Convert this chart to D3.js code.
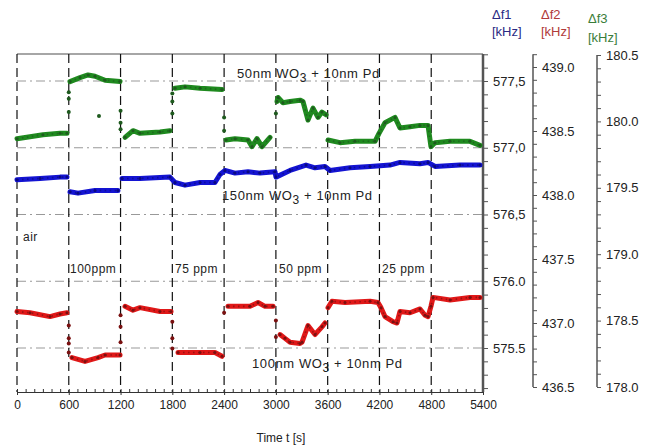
<!DOCTYPE html>
<html>
<head>
<meta charset="utf-8">
<script src="https://cdn.jsdelivr.net/npm/d3@7"></script>
<style>
  body { margin: 0; background: #fff; }
  svg { font-family: "Liberation Sans", Arial, sans-serif; }
  .lbl { font-size: 12px; fill: #222; letter-spacing: 0.5px; }
  .tick text { font-size: 12px; fill: #222; }
  .rt .tick text { font-size: 13px; }
</style>
</head>
<body>
<div id="chart"></div>
<script>
// ---- data (time in s, frequency shift in kHz) ----
var switchTimes = [600, 1200, 1800, 2400, 3000, 3600, 4200, 4800];
var timeTicks = [0, 600, 1200, 1800, 2400, 3000, 3600, 4200, 4800, 5400];

// 50nm WO3 + 10nm Pd  (f3)
var greenF3 = [[0,179.87],[301,179.90],[498,179.91],[579,179.91],
  [614,180.30],[730,180.33],[823,180.35],[904,180.34],[1020,180.31],[1194,180.30],
  [1252,179.88],[1344,179.93],[1425,179.91],[1657,179.92],[1773,179.93],
  [1831,180.25],[1947,180.26],[2121,180.25],[2376,180.24],
  [2422,179.86],[2526,179.87],[2677,179.86],[2723,179.81],[2781,179.87],[2839,179.81],[2932,179.88],
  [3013,180.15],[3025,180.18],[3082,180.14],[3164,180.15],[3280,180.16],[3314,180.15],
  [3372,180.01],[3430,180.10],[3488,180.03],[3534,180.07],[3581,180.05],
  [3604,179.86],[3743,179.84],[3917,179.85],[4149,179.85],[4195,179.91],
  [4264,179.99],[4380,180.03],[4438,179.95],[4554,179.96],[4670,179.97],[4763,179.97],
  [4797,179.81],[4844,179.84],[5018,179.85],[5249,179.85],[5365,179.82]];
var greenJumps = [[600,180.07],[600,180.17],[600,180.22],[950,180.04],
  [1200,180.08],[1200,179.99],[1200,179.94],[1800,180.06],[1800,180.15],[1800,180.21],
  [2400,180.03],[2400,179.93],[3000,180.06]];

// 150nm WO3 + 10nm Pd  (f1)
var blueF1 = [[0,576.76],[267,576.77],[498,576.78],[579,576.78],
  [614,576.67],[707,576.66],[904,576.68],[1170,576.68],
  [1217,576.77],[1425,576.77],[1773,576.78],
  [1831,576.74],[1947,576.72],[2121,576.74],[2294,576.74],[2352,576.80],
  [2410,576.83],[2526,576.81],[2677,576.82],[2816,576.81],[2990,576.82],
  [3001,576.78],[3164,576.83],[3349,576.87],[3453,576.85],[3569,576.86],
  [3627,576.83],[3859,576.85],[4091,576.86],[4322,576.87],[4438,576.89],[4670,576.88],[4763,576.89],
  [4844,576.86],[5133,576.87],[5365,576.87]];
var blueJumps = [];

// 100nm WO3 + 10nm Pd  (f2)
var redF2 = [[0,437.09],[151,437.08],[382,437.05],[498,437.07],[579,437.08],
  [637,436.73],[788,436.70],[939,436.73],[1020,436.75],[1194,436.75],
  [1252,437.13],[1344,437.10],[1425,437.12],[1657,437.09],[1785,437.09],
  [1866,436.77],[2121,436.77],[2294,436.77],[2376,436.74],
  [2445,437.13],[2700,437.13],[2793,437.16],[2874,437.13],[2967,437.13],
  [3048,436.91],[3106,436.88],[3164,436.85],[3280,436.84],[3303,436.85],
  [3372,436.98],[3453,436.91],[3534,436.97],[3569,437.00],
  [3604,437.12],[3650,437.17],[3801,437.16],[4091,437.17],[4183,437.16],
  [4218,437.12],[4264,437.05],[4357,437.01],[4403,437.00],[4438,437.09],
  [4554,437.08],[4670,437.11],[4728,437.06],[4763,437.05],
  [4797,437.13],[4821,437.20],[5018,437.18],[5249,437.20],[5365,437.20]];
var redJumps = [[600,436.98],[600,436.88],[600,436.84],[600,436.77],
  [1200,436.85],[1200,436.97],[1200,437.06],[1800,437.01],[1800,436.88],[1800,436.80],
  [2400,437.08],[3000,437.02],[3000,436.89]];

var f1Labels = {"575.5": "575.5", "576": "576.0", "576.5": "576,5", "577": "577,0", "577.5": "577,5"};
var f2Labels = ["436.5", "437.0", "437.5", "438.0", "438.5", "439.0"];
var f3Labels = ["178.0", "178.5", "179.0", "179.5", "180.0", "180.5"];

var gasLabels = [["air", 23, 241], ["100ppm", 70, 273], ["75 ppm", 175, 273],
                 ["50 ppm", 279, 273], ["25 ppm", 382, 273]];

// ---- layout ----
var svgWidth = 650, svgHeight = 448;
var plot = {left: 17, right: 483, top: 54, bottom: 392};

var svg = d3.select("#chart").append("svg")
  .attr("width", svgWidth)
  .attr("height", svgHeight);

var x = d3.scaleLinear().domain([0, 5400]).range([plot.left, plot.right]);
var y1 = d3.scaleLinear().domain([575.5, 577.5]).range([348, 81]);
var y2 = d3.scaleLinear().domain([436.5, 439.0]).range([387, 67]);
var y3 = d3.scaleLinear().domain([178.0, 180.5]).range([387, 55]);

function steps(a, b, s) {
  var out = [];
  for (var i = 0; a + i * s <= b + 1e-9; i++) out.push(+(a + i * s).toFixed(2));
  return out;
}

// horizontal grid (f1 major ticks)
svg.append("g").selectAll("line")
  .data(steps(575.5, 577.5, 0.5))
  .enter().append("line")
  .attr("x1", plot.left).attr("x2", plot.right)
  .attr("y1", d => y1(d)).attr("y2", d => y1(d))
  .attr("stroke", "#999").attr("stroke-width", 1)
  .attr("stroke-dasharray", "9,4,2,4");

// top border
svg.append("line")
  .attr("x1", plot.left).attr("x2", plot.right)
  .attr("y1", plot.top).attr("y2", plot.top)
  .attr("stroke", "#888").attr("stroke-width", 1.5);

// vertical dashed lines at gas switching
svg.append("g").selectAll("line")
  .data([0].concat(switchTimes))
  .enter().append("line")
  .attr("x1", d => x(d)).attr("x2", d => x(d))
  .attr("y1", plot.top).attr("y2", plot.bottom)
  .attr("stroke", "#111").attr("stroke-width", 1.2)
  .attr("stroke-dasharray", "9,5");

// bottom axis
var minorX = svg.append("g")
  .attr("transform", `translate(0, ${plot.bottom})`)
  .call(d3.axisBottom(x).tickValues(steps(0, 5400, 100)).tickSize(-3).tickFormat(""));
minorX.select(".domain").remove();
minorX.selectAll("line").attr("stroke", "#333");

var xAxis = svg.append("g")
  .attr("transform", `translate(0, ${plot.bottom})`)
  .call(d3.axisBottom(x).tickValues(timeTicks).tickSizeInner(3).tickSizeOuter(0).tickPadding(5)
    .tickFormat(d3.format("d")));
xAxis.select(".domain").attr("stroke", "#333").attr("stroke-width", 1.2);
xAxis.selectAll("line").attr("stroke", "#333");

svg.append("text").attr("class", "lbl")
  .attr("x", 281).attr("y", 442).attr("text-anchor", "middle")
  .style("letter-spacing", "0px")
  .text("Time t [s]");

// f1 axis (right border)
svg.append("line")
  .attr("x1", plot.right).attr("x2", plot.right)
  .attr("y1", plot.top).attr("y2", plot.bottom)
  .attr("stroke", "#555").attr("stroke-width", 2.5);
var f1Axis = svg.append("g").attr("class", "rt")
  .attr("transform", `translate(${plot.right + 1}, 0)`)
  .call(d3.axisRight(y1).tickValues(steps(575.2, 577.7, 0.1)).tickSize(4).tickPadding(5)
    .tickFormat(d => f1Labels[String(d)] || ""));
f1Axis.select(".domain").remove();
f1Axis.selectAll("line").attr("stroke", "#555");

function halfLabel(list) {
  return function (d) {
    var s = d.toFixed(1);
    return list.indexOf(s) >= 0 && Math.abs(d * 2 - Math.round(d * 2)) < 1e-6 ? s : "";
  };
}

// f2 axis
var f2Axis = svg.append("g").attr("class", "rt")
  .attr("transform", "translate(533, 0)")
  .call(d3.axisRight(y2).tickValues(steps(436.5, 439.1, 0.1)).tickSize(4).tickPadding(5)
    .tickFormat(halfLabel(f2Labels)));
f2Axis.select(".domain").remove();
f2Axis.append("line").attr("y1", y2(436.5)).attr("y2", y2(439.1))
  .attr("stroke", "#555").attr("stroke-width", 1.5);
f2Axis.selectAll("line").attr("stroke", "#555");

// f3 axis
var f3Axis = svg.append("g").attr("class", "rt")
  .attr("transform", "translate(597, 0)")
  .call(d3.axisRight(y3).tickValues(steps(178.0, 180.5, 0.1)).tickSize(4).tickPadding(5)
    .tickFormat(halfLabel(f3Labels)));
f3Axis.select(".domain").remove();
f3Axis.append("line").attr("y1", y3(178.0)).attr("y2", y3(180.5))
  .attr("stroke", "#555").attr("stroke-width", 1.5);
f3Axis.selectAll("line").attr("stroke", "#555");

// axis titles
var titles = [["\u0394f1", "[kHz]", 492, 19, 36, "#2a2a84"],
              ["\u0394f2", "[kHz]", 541, 19, 36, "#b03a3a"],
              ["\u0394f3", "[kHz]", 588, 23, 42, "#3a7d3a"]];
titles.forEach(function (t) {
  svg.append("text").attr("x", t[2]).attr("y", t[3]).attr("fill", t[5])
    .style("font-size", "13px").text(t[0]);
  svg.append("text").attr("x", t[2]).attr("y", t[4]).attr("fill", t[5])
    .style("font-size", "13px").text(t[1]);
});

// series
function drawSeries(data, jumps, yScale, color, dark) {
  // break the trace where the gas is switched and the signal jumps
  var segs = [[data[0]]];
  for (var i = 1; i < data.length; i++) {
    var a = data[i - 1], b = data[i];
    var crosses = switchTimes.some(s => a[0] < s && b[0] >= s);
    if (crosses && Math.abs(yScale(b[1]) - yScale(a[1])) > 12) segs.push([]);
    segs[segs.length - 1].push(b);
  }
  var line = d3.line().x(d => x(d[0])).y(d => yScale(d[1]));
  var g = svg.append("g");
  g.selectAll("path.band").data(segs).enter().append("path")
    .attr("class", "band")
    .attr("d", line).attr("fill", "none")
    .attr("stroke", color).attr("stroke-width", 5)
    .attr("stroke-linejoin", "round").attr("stroke-linecap", "round");
  // marker texture along the trace
  g.selectAll("path.tex").data(segs).enter().append("path")
    .attr("class", "tex")
    .attr("d", line).attr("fill", "none")
    .attr("stroke", dark).attr("stroke-width", 1.6).attr("opacity", 0.7)
    .attr("stroke-dasharray", "1.5,3.5");
  g.selectAll("circle.pt").data(data).enter().append("circle")
    .attr("class", "pt")
    .attr("cx", d => x(d[0])).attr("cy", d => yScale(d[1]))
    .attr("r", 1.5).attr("fill", dark);
  g.selectAll("circle.jp").data(jumps).enter().append("circle")
    .attr("class", "jp")
    .attr("cx", d => x(d[0])).attr("cy", d => yScale(d[1]))
    .attr("r", 2).attr("fill", dark);
}

drawSeries(greenF3, greenJumps, y3, "#1f8a1f", "#1e5a1e");
drawSeries(blueF1, blueJumps, y1, "#1414d2", "#0a0a80");
drawSeries(redF2, redJumps, y2, "#e01818", "#7a1010");

// text annotations
function sampleLabel(txt1, txt2, xPos, yPos) {
  var t = svg.append("text").attr("class", "lbl").attr("x", xPos).attr("y", yPos)
    .style("font-size", "13px").style("letter-spacing", "0.6px");
  t.append("tspan").text(txt1);
  t.append("tspan").attr("dy", 4).style("font-size", "12px").text("3");
  t.append("tspan").attr("dy", -4).text(txt2);
}
sampleLabel("50nm WO", " + 10nm Pd", 237, 78);
sampleLabel("150nm WO", " + 10nm Pd", 222, 200);
sampleLabel("100nm WO", " + 10nm Pd", 252, 368);

svg.append("g").selectAll("text")
  .data(gasLabels)
  .enter().append("text")
  .attr("class", "lbl")
  .attr("x", d => d[1]).attr("y", d => d[2])
  .text(d => d[0]);
</script>
</body>
</html>
